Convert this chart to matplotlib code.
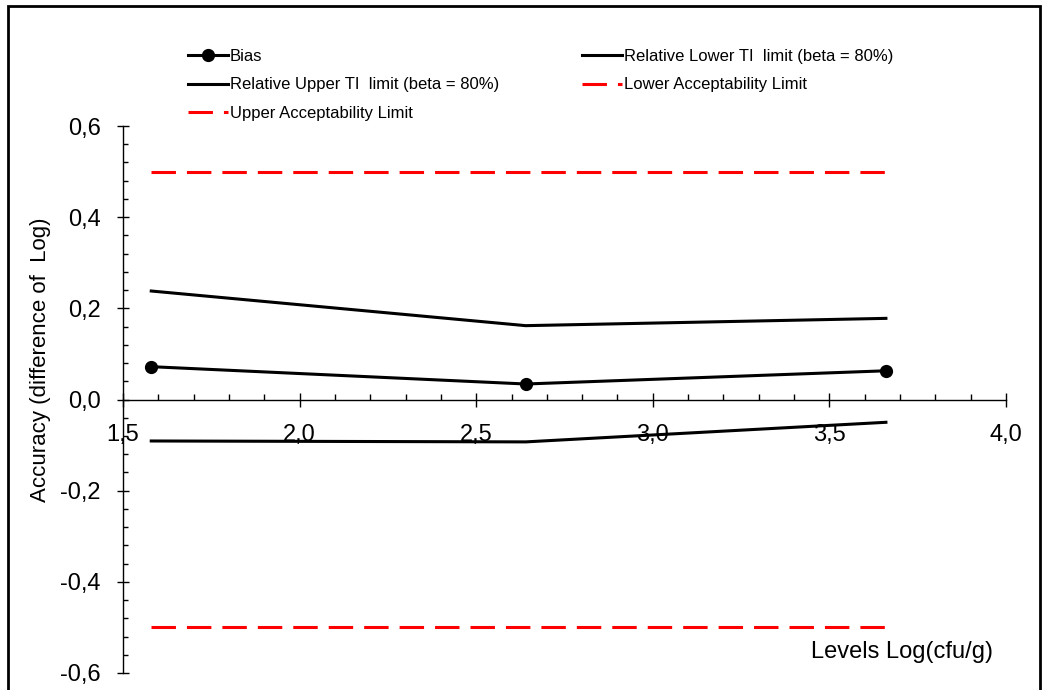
import matplotlib
matplotlib.use("Agg")
import matplotlib.pyplot as plt
from matplotlib.patches import Rectangle
from matplotlib.ticker import MultipleLocator, FuncFormatter

plt.rcParams['font.family'] = ['Liberation Sans', 'DejaVu Sans']

levels = [1.58, 2.64, 3.66]
bias = [0.072, 0.034, 0.063]
upper_ti = [0.238, 0.162, 0.178]
lower_ti = [-0.091, -0.093, -0.050]
upper_acc = [0.5, 0.5, 0.5]
lower_acc = [-0.5, -0.5, -0.5]

fig = plt.figure(figsize=(10.45, 6.9), dpi=100)
ax = fig.add_axes([123/1045, 1 - 673/690, 883/1045, 547/690])

dash = (0, (8, 3.6))
h_bias, = ax.plot(levels, bias, color='black', lw=2.2, marker='o', markersize=8.5,
                  label='Bias')
h_up, = ax.plot(levels, upper_ti, color='black', lw=2.2,
                label='Relative Upper TI  limit (beta = 80%)')
h_lo, = ax.plot(levels, lower_ti, color='black', lw=2.2,
                label='Relative Lower TI  limit (beta = 80%)')
h_ua, = ax.plot(levels, upper_acc, color='red', lw=2.2, linestyle=dash,
                label='Upper Acceptability Limit')
h_la, = ax.plot(levels, lower_acc, color='red', lw=2.2, linestyle=dash,
                label='Lower Acceptability Limit')

ax.set_xlim(1.5, 4.0)
ax.set_ylim(-0.6, 0.6)
ax.spines['top'].set_visible(False)
ax.spines['right'].set_visible(False)
ax.spines['bottom'].set_position(('data', 0))
ax.spines['left'].set_position(('data', 1.5))
for s in ('bottom', 'left'):
    ax.spines[s].set_linewidth(1.0)

ax.xaxis.set_major_locator(MultipleLocator(0.5))
ax.xaxis.set_minor_locator(MultipleLocator(0.1))
ax.yaxis.set_major_locator(MultipleLocator(0.2))
ax.yaxis.set_minor_locator(MultipleLocator(0.04))
fmt = FuncFormatter(lambda v, p: f"{v:.1f}".replace('.', ',').replace('-0,0', '0,0'))
ax.xaxis.set_major_formatter(fmt)
ax.yaxis.set_major_formatter(fmt)

ax.tick_params(axis='x', which='major', direction='inout', length=9.4, width=1,
               labelsize=17, pad=13)
ax.tick_params(axis='x', which='minor', direction='in', length=4.3, width=1)
ax.tick_params(axis='y', which='major', direction='inout', length=8, width=1,
               labelsize=17, pad=12)
ax.tick_params(axis='y', which='minor', direction='in', length=3.6, width=1)

ax.set_ylabel('Accuracy (difference of  Log)', fontsize=16)
ax.yaxis.set_label_coords(-0.0815, 0.572)
ax.set_xlabel('Levels Log(cfu/g)', fontsize=17, ha='right', va='center')
ax.xaxis.set_label_coords(0.985, 0.038)

leg = fig.legend(handles=[h_bias, h_up, h_ua, h_lo, h_la], ncol=2, frameon=False,
                 loc='upper left', bbox_to_anchor=(188/1045, 1 - 49/690),
                 fontsize=12, handlelength=2.4, handletextpad=0.12,
                 labelspacing=0.8, columnspacing=4.95, borderaxespad=0,
                 borderpad=0)

fig.patches.append(Rectangle((8/1045, -0.1), 1032/1045, 1.1 - 6/690, fill=False,
                             edgecolor='black', lw=2, transform=fig.transFigure))

fig.savefig('out.png', dpi=100)
